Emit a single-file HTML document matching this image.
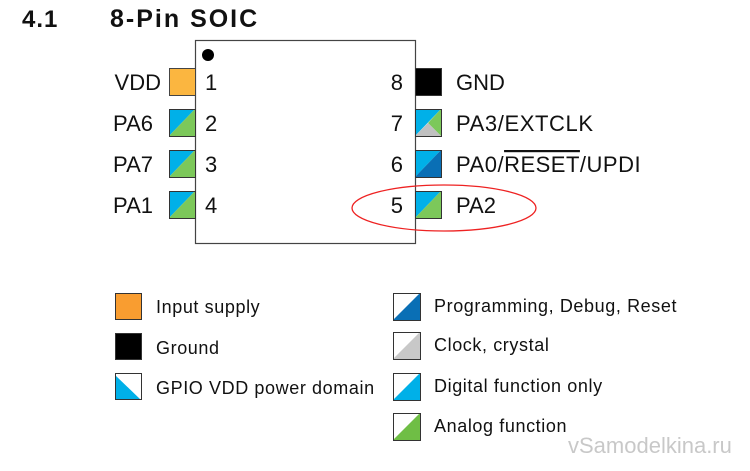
<!DOCTYPE html>
<html><head><meta charset="utf-8"><style>
body{margin:0;background:#fff;}
svg text{font-family:"Liberation Sans",Arial,sans-serif;}
</style></head><body>
<svg width="750" height="466" viewBox="0 0 750 466" xmlns="http://www.w3.org/2000/svg">
<text x="22" y="27" font-size="24" font-weight="bold" fill="#111" letter-spacing="1">4.1</text>
<text x="110" y="27" font-size="25" font-weight="bold" fill="#111" letter-spacing="2">8-Pin SOIC</text>
<rect x="195.5" y="40.5" width="220" height="203" fill="#fff" stroke="#444" stroke-width="1.2"/>
<circle cx="208" cy="55" r="6" fill="#000"/>
<defs>
<g id="cg"><polygon points="0,0 26,0 0,27" fill="#00b0e8"/><polygon points="26,0 26,27 0,27" fill="#7cc85a"/><rect x="0.5" y="0.5" width="26" height="27" fill="none" stroke="#333"/></g>
</defs>
<rect x="169.5" y="68.5" width="26" height="27" fill="#fbb640" stroke="#444"/>
<use href="#cg" x="169" y="109"/>
<use href="#cg" x="169" y="150"/>
<use href="#cg" x="169" y="191"/>
<g font-size="22" fill="#111">
<text x="161" y="90" text-anchor="end">VDD</text>
<text x="153" y="131" text-anchor="end">PA6</text>
<text x="153" y="172" text-anchor="end">PA7</text>
<text x="153" y="213" text-anchor="end">PA1</text>
<text x="205" y="90">1</text><text x="205" y="131">2</text><text x="205" y="172">3</text><text x="205" y="213">4</text>
<text x="403" y="90" text-anchor="end">8</text><text x="403" y="131" text-anchor="end">7</text><text x="403" y="172" text-anchor="end">6</text><text x="403" y="213" text-anchor="end">5</text>
<text x="456" y="90">GND</text>
<text x="456" y="131" letter-spacing="0.6">PA3/EXTCLK</text>
<text x="456" y="172" letter-spacing="0.5">PA0/<tspan text-decoration="overline">RESET</tspan>/UPDI</text>
<text x="456" y="213">PA2</text>
</g>
<rect x="415.5" y="68.5" width="26" height="27" fill="#000" stroke="#333"/>
<g transform="translate(415,109)"><polygon points="0,0 26,0 0,27" fill="#00b0e8"/><polygon points="26,0 26,27 13,14" fill="#7cc85a"/><polygon points="0,27 26,27 13,14" fill="#c0c0c0"/><rect x="0.5" y="0.5" width="26" height="27" fill="none" stroke="#333"/></g>
<g transform="translate(415,150)"><polygon points="0,0 26,0 0,27" fill="#00b0e8"/><polygon points="26,0 26,27 0,27" fill="#0a6fb5"/><rect x="0.5" y="0.5" width="26" height="27" fill="none" stroke="#333"/></g>
<use href="#cg" x="415" y="191"/>
<ellipse cx="444" cy="208" rx="92" ry="23" fill="none" stroke="#e22" stroke-width="1.3"/>
<rect x="115.5" y="293.5" width="26" height="26" fill="#f99d30" stroke="#333"/>
<rect x="115.5" y="333.5" width="26" height="26" fill="#000" stroke="#333"/>
<g transform="translate(115,373)"><polygon points="0,2 0,27 26,27" fill="#00b0e8"/><rect x="0.5" y="0.5" width="26" height="26" fill="none" stroke="#333"/></g>
<g font-size="18" fill="#111" letter-spacing="0.6">
<text x="156" y="313">Input supply</text>
<text x="156" y="354">Ground</text>
<text x="156" y="394">GPIO VDD power domain</text>
<text x="434" y="312">Programming, Debug, Reset</text>
<text x="434" y="351">Clock, crystal</text>
<text x="434" y="392">Digital function only</text>
<text x="434" y="432">Analog function</text>
</g>
<g transform="translate(393,293)"><polygon points="27,0 27,27 0,27" fill="#0a6fb5"/><rect x="0.5" y="0.5" width="27" height="27" fill="none" stroke="#333"/></g>
<g transform="translate(393,332)"><polygon points="27,0 27,27 0,27" fill="#c8c8c8"/><rect x="0.5" y="0.5" width="27" height="27" fill="none" stroke="#333"/></g>
<g transform="translate(393,373)"><polygon points="27,0 27,27 0,27" fill="#00b0e8"/><rect x="0.5" y="0.5" width="27" height="27" fill="none" stroke="#333"/></g>
<g transform="translate(393,413)"><polygon points="27,0 27,27 0,27" fill="#6fbe45"/><rect x="0.5" y="0.5" width="27" height="27" fill="none" stroke="#333"/></g>
<text x="568" y="453" font-size="22" fill="#bbb" opacity="0.8">vSamodelkina.ru</text>
</svg>
</body></html>
